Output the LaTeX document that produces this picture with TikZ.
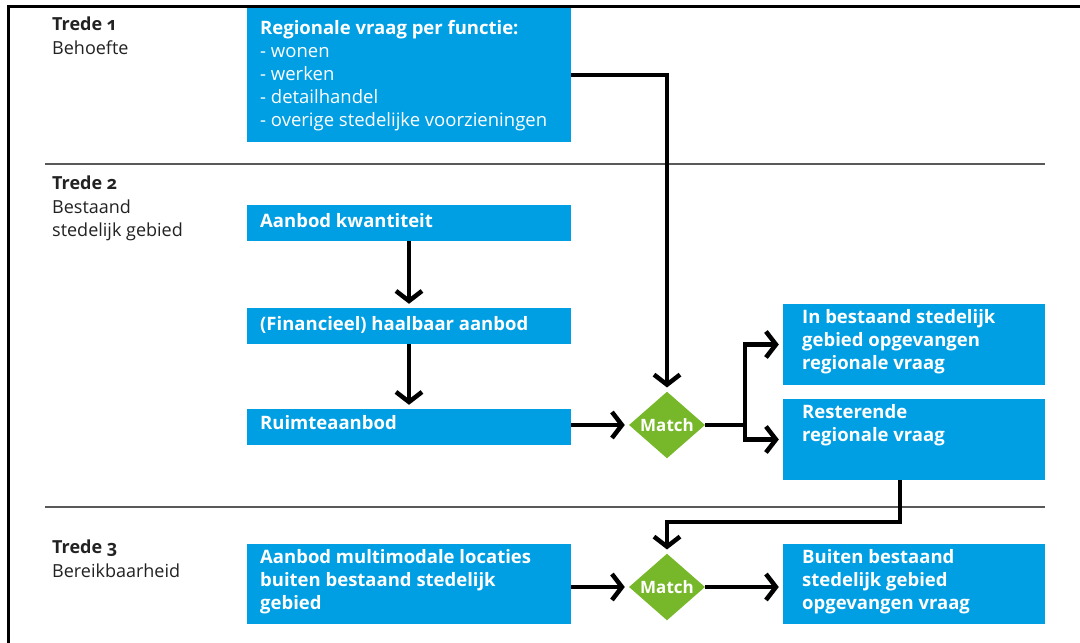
\documentclass[tikz,border=0pt]{standalone}
\usepackage{fontspec}
\setmainfont{Open Sans}[Numbers=OldStyle]
\usetikzlibrary{arrows.meta,shapes.geometric,calc}
\definecolor{rblue}{HTML}{009FE3}
\definecolor{rgreen}{HTML}{77B82A}
\definecolor{lbltxt}{HTML}{222222}
\begin{document}
\begin{tikzpicture}[x=1pt,y=-1pt,
  box/.style={fill=rblue, draw=none, inner sep=0pt, rectangle},
  txt/.style={text=white, font=\fontsize{18.5}{23}\selectfont, align=left, anchor=north west, inner sep=0pt},
  lbl/.style={text=lbltxt, font=\fontsize{18}{23.5}\selectfont, align=left, anchor=north west, inner sep=0pt},
  match/.style={diamond, fill=rgreen, draw=none, inner sep=0pt, minimum width=76pt, minimum height=66pt, text=white, font=\fontsize{17}{18}\selectfont\bfseries},
  line/.style={line width=4.5pt, line join=miter},
  arr/.style={line width=4.5pt, line join=miter, -{Straight Barb[length=10pt,width=26pt]}, shorten >=4pt},
  sep/.style={draw=black!65, line width=2pt}
]
\useasboundingbox (0,0) rectangle (1080,643);
\fill[white] (0,0) rectangle (1080,643);
% frame
\draw[line width=3pt] (8,643) -- (8,6) -- (1080,6);
% separators
\draw[sep] (45,164) -- (1045,164);
\draw[sep] (45,507) -- (1045,507);
% labels
\node[lbl] (t1) at (52,17) {\textbf{Trede 1}\\Behoefte};
\node[lbl] (t2) at (52,176) {\textbf{Trede 2}\\Bestaand\\stedelijk gebied};
\node[lbl] (t3) at (52,540) {\textbf{Trede 3}\\Bereikbaarheid};
% boxes
\node[box, minimum width=324pt, minimum height=134pt] (reg) at (409,75) {};
\node[txt] (regt) at (260,20) {\textbf{Regionale vraag per functie:}\\- wonen\\- werken\\- detailhandel\\- overige stedelijke voorzieningen};
\node[box, minimum width=324pt, minimum height=36pt] (kw) at (409,223) {};
\node[txt] (kwt) at (260,213) {\textbf{Aanbod kwantiteit}};
\node[box, minimum width=324pt, minimum height=36pt] (fin) at (409,326) {};
\node[txt] (fint) at (260,316) {\textbf{(Financieel) haalbaar aanbod}};
\node[box, minimum width=324pt, minimum height=36pt] (ruimte) at (409,427) {};
\node[txt] (ruimtet) at (260,415) {\textbf{Ruimteaanbod}};
\node[box, minimum width=262pt, minimum height=81pt] (inb) at (914,344.5) {};
\node[txt] (inbt) at (802,309) {\textbf{In bestaand stedelijk}\\\textbf{gebied opgevangen}\\\textbf{regionale vraag}};
\node[box, minimum width=262pt, minimum height=81pt] (rest) at (914,439.5) {};
\node[txt] (restt) at (802,404) {\textbf{Resterende}\\\textbf{regionale vraag}};
\node[box, minimum width=324pt, minimum height=80pt] (multi) at (409,584) {};
\node[txt] (multit) at (260,549) {\textbf{Aanbod multimodale locaties}\\\textbf{buiten bestaand stedelijk}\\\textbf{gebied}};
\node[box, minimum width=262pt, minimum height=80pt] (buiten) at (914,584) {};
\node[txt] (buitent) at (802,549) {\textbf{Buiten bestaand}\\\textbf{stedelijk gebied}\\\textbf{opgevangen vraag}};
% diamonds
\node[match] (m1) at (667,425) {Match};
\node[match] (m2) at (667,587) {Match};
% connectors
\draw[arr] (reg.east) -| (m1.north);
\draw[arr] (kw.south) -- (fin.north);
\draw[arr] (fin.south) -- (ruimte.north);
\draw[arr] (ruimte.east |- m1.west) -- (m1.west);
\coordinate (split) at (745,425);
\draw[line] (m1.east) -- (split);
\draw[arr] (split) |- (inb.west);
\draw[arr] (split) |- (rest.west);
\coordinate (r3) at (900,522);
\draw[arr] (rest.south -| r3) -- (r3) -| (m2.north);
\draw[arr] (multi.east |- m2.west) -- (m2.west);
\draw[arr] (m2.east) -- (buiten.west |- m2.east);
\end{tikzpicture}
\end{document}
